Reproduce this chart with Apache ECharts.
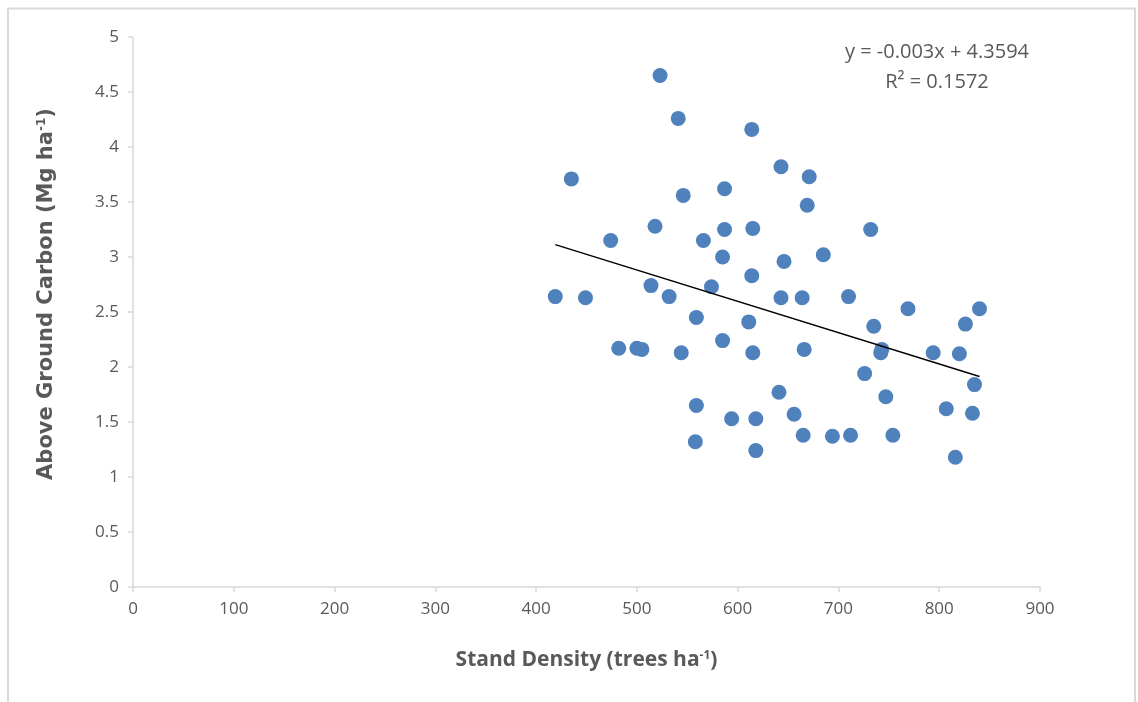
<!DOCTYPE html>
<html>
<head>
<meta charset="utf-8">
<script src="https://cdn.jsdelivr.net/npm/echarts@6/dist/echarts.min.js"></script>
<style>
html,body{margin:0;padding:0;background:#fff;}
#chart{width:1138px;height:702px;}
</style>
</head>
<body>
<div id="chart"></div>
<script>
// Stand density (trees/ha)
var standDensity = [523, 541, 614, 643, 671, 435, 587, 546, 669, 518, 587, 615, 732, 474, 566,
  585, 685, 646, 614, 514, 574, 419, 449, 532, 643, 664, 710, 769, 840, 559,
  611, 735, 826, 585, 482, 500, 505, 544, 615, 666, 743, 742, 794, 820, 726,
  835, 641, 747, 559, 807, 833, 656, 594, 618, 665, 694, 712, 754, 558, 618, 816];
// Above ground carbon (Mg/ha)
var carbon = [4.65, 4.26, 4.16, 3.82, 3.73, 3.71, 3.62, 3.56, 3.47, 3.28, 3.25, 3.26, 3.25, 3.15, 3.15,
  3.00, 3.02, 2.96, 2.83, 2.74, 2.73, 2.64, 2.63, 2.64, 2.63, 2.63, 2.64, 2.53, 2.53, 2.45,
  2.41, 2.37, 2.39, 2.24, 2.17, 2.17, 2.16, 2.13, 2.13, 2.16, 2.16, 2.13, 2.13, 2.12, 1.94,
  1.84, 1.77, 1.73, 1.65, 1.62, 1.58, 1.57, 1.53, 1.53, 1.38, 1.37, 1.38, 1.38, 1.32, 1.24, 1.18];
var equationText = 'y = -0.003x + 4.3594';
var r2Text = 'R\u00B2 = 0.1572';
var xTicks = [0, 100, 200, 300, 400, 500, 600, 700, 800, 900];
var yTicks = [0, 0.5, 1, 1.5, 2, 2.5, 3, 3.5, 4, 4.5, 5];

var points = standDensity.map(function (x, i) { return [x, carbon[i]]; });

// least squares linear trend from the data
var n = points.length, sx = 0, sy = 0, sxx = 0, sxy = 0;
points.forEach(function (p) { sx += p[0]; sy += p[1]; sxx += p[0] * p[0]; sxy += p[0] * p[1]; });
var slope = (n * sxy - sx * sy) / (n * sxx - sx * sx);
var intercept = (sy - slope * sx) / n;
var xMin = Math.min.apply(null, standDensity), xMax = Math.max.apply(null, standDensity);
var trend = [[xMin, intercept + slope * xMin], [xMax, intercept + slope * xMax]];

var grey = '#595959';
var chart = echarts.init(document.getElementById('chart'), null, {renderer: 'canvas'});
chart.setOption({
  animation: false,
  backgroundColor: '#fff',
  grid: {left: 133, right: 98, top: 37, bottom: 115, containLabel: false},
  xAxis: {
    type: 'value', min: xTicks[0], max: xTicks[xTicks.length - 1], interval: 100,
    name: '{b|Stand Density (trees ha}{s|-1}{b|)}',
    nameLocation: 'middle', nameGap: 63,
    nameTextStyle: {
      rich: {
        b: {fontFamily: 'Open Sans, sans-serif', fontWeight: 'bold', fontSize: 21, color: grey},
        s: {fontFamily: 'Open Sans, sans-serif', fontWeight: 'bold', fontSize: 12, color: grey, verticalAlign: 'top', padding: [0, 0, 9, 0]}
      }
    },
    axisLine: {lineStyle: {color: '#d9d9d9', width: 1.5}},
    axisTick: {show: true, length: 5, lineStyle: {color: '#d9d9d9', width: 1.5}},
    axisLabel: {color: grey, fontSize: 17, margin: 14, fontFamily: 'Open Sans, sans-serif'},
    splitLine: {show: false}
  },
  yAxis: {
    type: 'value', min: yTicks[0], max: yTicks[yTicks.length - 1], interval: 0.5,
    name: '{b|Above Ground Carbon (Mg ha}{s|-1}{b|)}',
    nameLocation: 'middle', nameGap: 76, nameRotate: 90,
    nameTextStyle: {
      padding: [0, 0, 0, 36],
      rich: {
        b: {fontFamily: 'DejaVu Sans, sans-serif', fontWeight: 'bold', fontSize: 21, color: grey},
        s: {fontFamily: 'DejaVu Sans, sans-serif', fontWeight: 'bold', fontSize: 12, color: grey, verticalAlign: 'top', padding: [0, 0, 9, 0]}
      }
    },
    axisLine: {show: true, lineStyle: {color: '#d9d9d9', width: 1.5}},
    axisTick: {show: true, length: 5, lineStyle: {color: '#d9d9d9', width: 1.5}},
    axisLabel: {color: grey, fontSize: 17, margin: 14, fontFamily: 'Open Sans, sans-serif'},
    splitLine: {show: false}
  },
  series: [
    {
      type: 'scatter', data: points, symbolSize: 15,
      itemStyle: {color: '#4f81bd', opacity: 1},
      z: 2
    },
    {
      type: 'line', data: trend, symbol: 'none', silent: true,
      lineStyle: {color: '#000000', width: 1.5}, z: 3
    }
  ],
  graphic: [
    {type: 'rect', shape: {x: 8, y: 8.5, width: 1127, height: 710}, style: {fill: 'none', stroke: '#d9d9d9', lineWidth: 2}, silent: true},
    {type: 'text', x: 937, y: 42, style: {text: equationText, fill: grey, fontSize: 20, textAlign: 'center', fontFamily: 'Open Sans, sans-serif'}},
    {type: 'text', x: 937, y: 72, style: {text: r2Text, fill: grey, fontSize: 20, textAlign: 'center', fontFamily: 'Open Sans, sans-serif'}}
  ]
});
</script>
</body>
</html>
